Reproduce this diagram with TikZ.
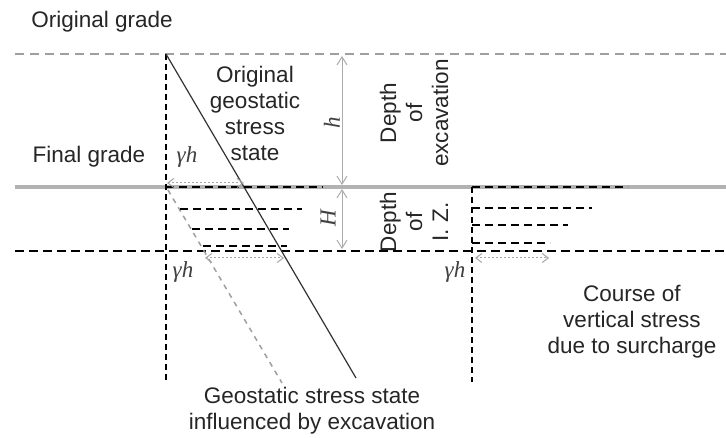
\documentclass[tikz,border=0pt]{standalone}
\usepackage{fontspec}
\setmainfont{Liberation Sans}
\newfontfamily\tnr{Liberation Serif}
\usetikzlibrary{arrows.meta}
\begin{document}
\begin{tikzpicture}[x=1pt,y=-1pt,
  lbl/.style={font=\fontsize{22.5}{26}\selectfont, align=center, text=black!85, inner sep=0pt},
  sym/.style={font=\tnr\itshape\fontsize{23}{24}\selectfont, inner sep=0pt, text=black!75},
  grayd/.style={gray!75, line width=1.5pt, dash pattern=on 9pt off 6pt},
  blkd/.style={black, line width=2.3pt, dash pattern=on 9pt off 5pt},
  shortd/.style={black, line width=2.1pt, dash pattern=on 8pt off 5pt},
  vd/.style={black, line width=1.7pt, dash pattern=on 6pt off 4pt},
  gradeline/.style={gray!60, line width=4.5pt},
  dimarr/.style={gray!65, line width=1pt, {Straight Barb[length=8pt,width=10pt]}-{Straight Barb[length=8pt,width=10pt]}},
  dotarr/.style={gray!70, line width=1pt, dash pattern=on 2pt off 2pt, {Straight Barb[length=6pt,width=9pt]}-{Straight Barb[length=6pt,width=9pt]}},
]
\useasboundingbox (0,0) rectangle (726,438);
\fill[white] (0,0) rectangle (726,438);

% coordinates
\coordinate (ogL) at (15,54);   \coordinate (ogR) at (726,54);
\coordinate (fgL) at (15,187);  \coordinate (fgR) at (726,187);
\coordinate (izL) at (15,251);  \coordinate (izR) at (726,251);
\coordinate (lvT) at (166,54);  \coordinate (lvB) at (166,382);
\coordinate (rvT) at (472,187); \coordinate (rvB) at (472,382);
\coordinate (slE) at (356,378);
\coordinate (gdS) at (168,190); \coordinate (gdE) at (282,383);
\coordinate (hT) at (342,56);   \coordinate (hB) at (342,185);
\coordinate (HT) at (342,189);  \coordinate (HB) at (342,249);

% grade lines
\draw[grayd] (ogL) -- (ogR);
\draw[gradeline] (fgL) -- (fgR);
\draw[blkd] (izL) -- (izR);

% verticals
\draw[vd] (lvT) -- (lvB);
\draw[vd] (rvT) -- (rvB);

% stress lines
\draw[black!80, line width=1.2pt] (lvT) -- (slE);
\draw[gray!75, line width=1.5pt, dash pattern=on 5pt off 5pt] (gdS) -- (gdE);

% left short dashed lines
\coordinate (a1) at (166,187); \coordinate (a2) at (323,187);
\coordinate (b1) at (180,209); \coordinate (b2) at (302,209);
\coordinate (c1) at (192,229); \coordinate (c2) at (289,229);
\coordinate (d1) at (203,246); \coordinate (d2) at (287,246);
\draw[shortd] (a1) -- (a2);
\draw[shortd] (b1) -- (b2);
\draw[shortd] (c1) -- (c2);
\draw[shortd] (d1) -- (d2);

% right short dashed lines
\coordinate (e1) at (472,187); \coordinate (e2) at (628,187);
\coordinate (f1) at (472,208); \coordinate (f2) at (592,208);
\coordinate (g1) at (472,225); \coordinate (g2) at (568,225);
\coordinate (k1) at (472,243); \coordinate (k2) at (550,243);
\draw[shortd] (e1) -- (e2);
\draw[shortd] (f1) -- (f2);
\draw[shortd] (g1) -- (g2);
\draw[shortd] (k1) -- (k2);

% dimension arrows
\draw[dimarr] (hT) -- (hB);
\draw[dimarr] (HT) -- (HB);

% dotted arrows
\coordinate (p1) at (167,183); \coordinate (p2) at (244,183);
\coordinate (q1) at (205,258); \coordinate (q2) at (284,258);
\coordinate (r1) at (475,258); \coordinate (r2) at (549,258);
\draw[dotarr] (p1) -- (p2);
\draw[dotarr] (q1) -- (q2);
\draw[dotarr] (r1) -- (r2);

% labels
\node[lbl] (origgrade) at (102,22) {Original grade};
\node[lbl] (finalgrade) at (89,157) {Final grade};
\node[lbl] (origstate) at (255,113) {Original\\geostatic\\stress\\state};
\node[lbl, rotate=90] (depthexc) at (414,113) {Depth\\of\\excavation};
\node[lbl, rotate=90] (depthiz) at (414,222) {Depth\\of\\I. Z.};
\node[lbl] (influenced) at (312,411) {Geostatic stress state\\influenced by excavation};
\node[lbl] (course) at (632,322) {Course of\\vertical stress\\due to surcharge};
\node[sym, rotate=90] (hlbl) at (332,123) {h};
\node[sym, rotate=90] (Hlbl) at (328,218) {H};
\node[sym] (gh1) at (187,157) {\char"03B3h};
\node[sym] (gh2) at (183,272) {\char"03B3h};
\node[sym] (gh3) at (455,272) {\char"03B3h};
\end{tikzpicture}
\end{document}
